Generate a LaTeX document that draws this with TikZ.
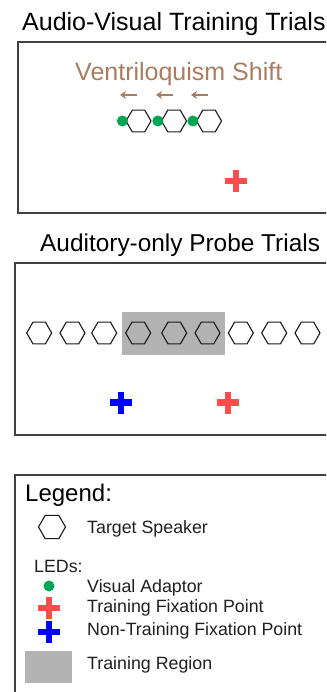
\documentclass[tikz,border=0pt]{standalone}
\usepackage{fontspec}
\setmainfont{Liberation Sans}
\usetikzlibrary{shapes.geometric,arrows.meta,positioning}

\definecolor{shiftbrown}{RGB}{170,124,96}
\definecolor{ledgreen}{RGB}{0,166,81}
\definecolor{fixred}{RGB}{255,77,77}
\definecolor{fixblue}{RGB}{0,0,255}
\definecolor{regiongray}{RGB}{179,179,179}

\tikzset{
  speaker/.style={draw=black!90, line width=1.1pt, regular polygon, regular polygon sides=6,
    minimum size=25pt, inner sep=0pt},
  led/.style={circle, fill=ledgreen, minimum size=11pt, inner sep=0pt},
  fixpt/.style={minimum size=22pt, inner sep=0pt, path picture={
      \fill[#1] ([xshift=-11pt,yshift=-3.3pt]path picture bounding box.center)
        rectangle ([xshift=11pt,yshift=3.3pt]path picture bounding box.center);
      \fill[#1] ([xshift=-3.3pt,yshift=-11pt]path picture bounding box.center)
        rectangle ([xshift=3.3pt,yshift=11pt]path picture bounding box.center);}},
  panel/.style={draw=black!75, line width=1.2pt},
  title/.style={anchor=base west, inner sep=0pt, font=\fontsize{24.4}{28}\selectfont},
  itemtext/.style={anchor=base west, inner sep=0pt, text=black!88, font=\fontsize{17.8}{21}\selectfont},
  shiftarrow/.style={draw=shiftbrown, line width=1.4pt, -{Stealth[length=6pt,width=8pt]}}
}

\begin{document}
\begin{tikzpicture}[x=1pt, y=-1pt]
  \clip (0,0) rectangle (326,692);

  % audio-visual training trials
  \node[title, font=\fontsize{25}{29}\selectfont] (avtitle) at (22,30.7) {Audio-Visual Training Trials};
  \draw[panel] (18,42) rectangle (345,213);
  \node[anchor=base west, inner sep=0pt, text=shiftbrown, font=\fontsize{25}{29}\selectfont]
    (shift) at (75,81) {Ventriloquism Shift};

  \node[speaker] (av1) at (138.5,121) {};
  \node[speaker] (av2) at (174,121) {};
  \node[speaker] (av3) at (209,121) {};
  \node[led] (g1) at ([xshift=-3pt]av1.west) {};
  \node[led] (g2) at ([xshift=-3pt]av2.west) {};
  \node[led] (g3) at ([xshift=-3pt]av3.west) {};

  \coordinate (t1) at (137,95); \coordinate (h1) at (120,95);
  \coordinate (t2) at (173,95); \coordinate (h2) at (156,95);
  \coordinate (t3) at (208,95); \coordinate (h3) at (191,95);
  \draw[shiftarrow] (t1) -- (h1);
  \draw[shiftarrow] (t2) -- (h2);
  \draw[shiftarrow] (t3) -- (h3);

  \node[fixpt=fixred] (avfix) at (236,181) {};

  % auditory-only probe trials
  \node[title] (protitle) at (40,251.5) {Auditory-only Probe Trials};
  \draw[panel] (15,263) rectangle (345,435);
  \fill[regiongray] (122,312) rectangle (225,355);
  \foreach \x [count=\i] in {39.2,72.5,104.2,138.2,174.2,207.5,240.8,274.2,307.5}
    \node[speaker] (pr\i) at (\x,333) {};
  \node[fixpt=fixblue] (ntfix) at (121,402.5) {};
  \node[fixpt=fixred] (trfix) at (228,402.5) {};

  % legend
  \draw[panel] (15,475) rectangle (345,710);
  \node[anchor=base west, inner sep=0pt, font=\fontsize{24}{28}\selectfont] (leg) at (25,501.5) {Legend:};
  \node[speaker, minimum size=27pt] (lspk) at (52,527) {};
  \node[itemtext] (lspktxt) at (87,533.3) {Target Speaker};
  \node[itemtext] (leds) at (34,572) {LEDs:};
  \node[led] (lled) at (49,586) {};
  \node[itemtext] (lledtxt) at (87,592.3) {Visual Adaptor};
  \node[fixpt=fixred] (lred) at (49,608) {};
  \node[itemtext] (lredtxt) at (87,612.7) {Training Fixation Point};
  \node[fixpt=fixblue] (lblue) at (49,632) {};
  \node[itemtext] (lbluetxt) at (87,635) {Non-Training Fixation Point};
  \fill[regiongray] (25,651) rectangle (72,683);
  \node[itemtext] (lregtxt) at (87,669) {Training Region};
\end{tikzpicture}
\end{document}
